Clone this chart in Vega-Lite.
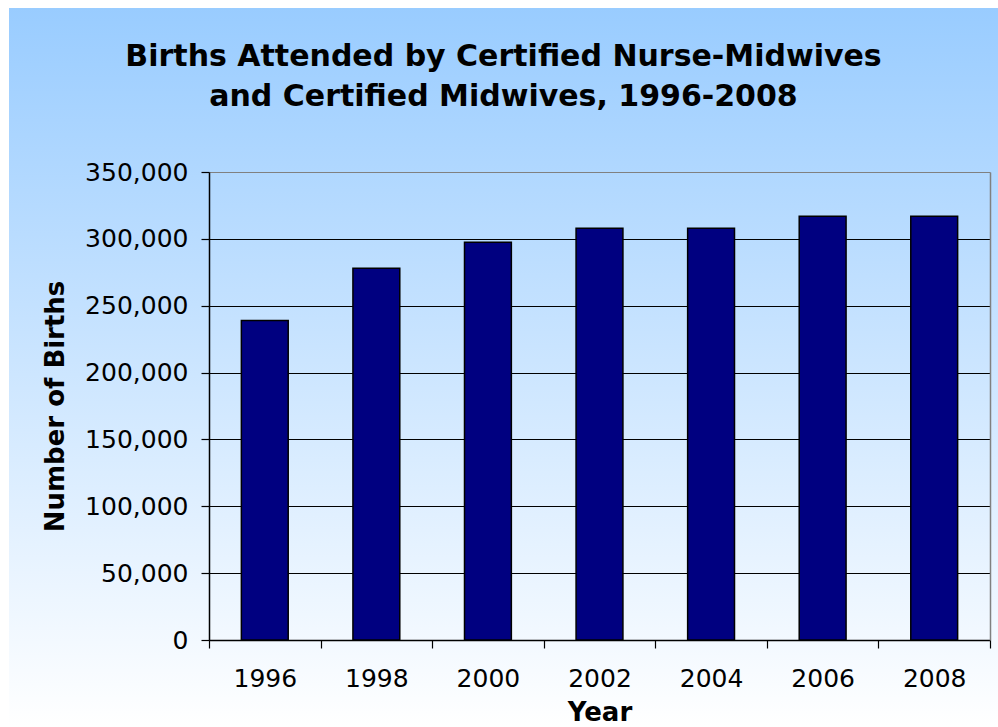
{
  "$schema": "https://vega.github.io/schema/vega-lite/v6.json",
  "width": 989,
  "height": 719,
  "autosize": {"type": "none"},
  "padding": {"left": 9, "top": 8, "right": 0, "bottom": 0},
  "background": "#FFFFFF",
  "title": {
    "text": ["Births Attended by Certified Nurse-Midwives", "and Certified Midwives, 1996-2008"],
    "font": "DejaVu Sans",
    "fontSize": 30,
    "fontWeight": "bold",
    "color": "#000000",
    "lineHeight": 40,
    "anchor": "middle",
    "frame": "group",
    "offset": -104
  },
  "data": {
    "values": [
      {"year": "1996", "births": 239000},
      {"year": "1998", "births": 278000},
      {"year": "2000", "births": 297500},
      {"year": "2002", "births": 308000},
      {"year": "2004", "births": 308000},
      {"year": "2006", "births": 317000},
      {"year": "2008", "births": 317000}
    ]
  },
  "encoding": {
    "x": {
      "field": "year",
      "type": "ordinal",
      "scale": {"range": [200, 981], "paddingInner": 0, "paddingOuter": 0},
      "axis": {
        "title": "Year",
        "orient": "bottom",
        "offset": -87,
        "labelAngle": 0,
        "tickBand": "extent",
        "tickSize": 8,
        "labelPadding": 18,
        "titlePadding": 8,
        "grid": false
      }
    }
  },
  "layer": [
    {
      "mark": {"type": "bar", "fill": "#000080", "stroke": "#000000", "strokeWidth": 1.5, "width": {"band": 0.42}},
      "encoding": {
        "y": {
          "field": "births",
          "type": "quantitative",
          "scale": {"domain": [0, 350000], "range": [632, 164], "nice": false, "zero": true},
          "axis": {
            "title": "Number of Births",
            "orient": "left",
            "offset": -200,
            "values": [0, 50000, 100000, 150000, 200000, 250000, 300000, 350000],
            "format": ",.0f",
            "tickSize": 8,
            "labelPadding": 13,
            "titlePadding": 16,
            "grid": true,
            "gridColor": {"condition": {"test": "datum.value === 350000", "value": "#808080"}, "value": "#000000"},
            "gridWidth": 1.2
          }
        }
      }
    },
    {
      "mark": {"type": "bar", "opacity": 0, "width": {"band": 0.42}},
      "encoding": {
        "y": {
          "field": "births",
          "type": "quantitative",
          "axis": {
            "orient": "right",
            "offset": -8,
            "title": null,
            "labels": false,
            "ticks": false,
            "grid": false,
            "domainColor": "#808080",
            "domainWidth": 1.5
          }
        }
      }
    }
  ],
  "resolve": {"axis": {"y": "independent"}},
  "config": {
    "view": {
      "stroke": null,
      "fill": {
        "gradient": "linear",
        "x1": 0, "y1": 0, "x2": 0, "y2": 1,
        "stops": [
          {"offset": 0, "color": "#99CCFF"},
          {"offset": 1, "color": "#FFFFFF"}
        ]
      }
    },
    "axis": {
      "labelFont": "DejaVu Sans",
      "labelFontSize": 25,
      "labelColor": "#000000",
      "titleFont": "DejaVu Sans",
      "titleFontSize": 26,
      "titleFontWeight": "bold",
      "titleColor": "#000000",
      "domainColor": "#000000",
      "domainWidth": 1.5,
      "tickColor": "#000000",
      "tickWidth": 1.2
    }
  }
}
